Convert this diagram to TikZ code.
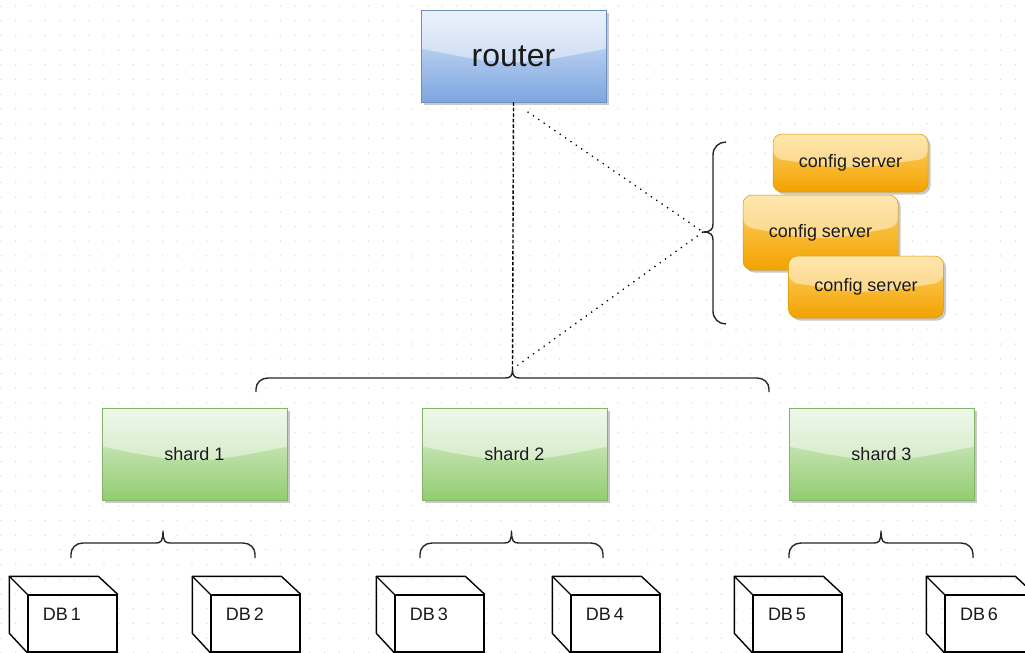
\documentclass[tikz,border=0pt]{standalone}
\usepackage{fontspec}
\setmainfont{Liberation Sans}
\usetikzlibrary{calc,shadows}
\definecolor{gridc}{HTML}{DADADA}
\definecolor{routertop}{HTML}{DCE8FA}
\definecolor{routerbot}{HTML}{7EA6E0}
\definecolor{routerline}{HTML}{6C8EBF}
\definecolor{shardtop}{HTML}{E4F2DC}
\definecolor{shardbot}{HTML}{92CC70}
\definecolor{shardline}{HTML}{82B366}
\definecolor{cfgtop}{HTML}{FFD36A}
\definecolor{cfgbot}{HTML}{F3A200}
\definecolor{cfgline}{HTML}{D79B00}
\definecolor{txt}{HTML}{1A1A1A}
% horizontal brace pointing up: x1, x2, y of ends, y of middle line, y of tip
\newcommand\myhbrace[5]{%
  \draw[bracestyle] (#1,#3) -- (#1,#4+11) .. controls (#1,#4+5) and (#1+5,#4) .. (#1+12,#4)
    -- ({(#1+#2)/2-7},#4) .. controls ({(#1+#2)/2-2},#4) and ({(#1+#2)/2},#4-2) .. ({(#1+#2)/2},#5)
    .. controls ({(#1+#2)/2},#4-2) and ({(#1+#2)/2+2},#4) .. ({(#1+#2)/2+7},#4)
    -- (#2-12,#4) .. controls (#2-5,#4) and (#2,#4+5) .. (#2,#4+11) -- (#2,#3);}
\begin{document}
\begin{tikzpicture}[x=1pt,y=-1pt,
  glass/.style={path picture={
    \fill[white,opacity=0.45]
      (path picture bounding box.north west) -- (path picture bounding box.north east)
      -- ($(path picture bounding box.north east)!0.42!(path picture bounding box.south east)$)
      .. controls ($(path picture bounding box.north)!0.62!(path picture bounding box.south)$) ..
      ($(path picture bounding box.north west)!0.42!(path picture bounding box.south west)$) -- cycle;}},
  glassbox/.style={draw, line width=0.5pt, inner sep=0pt, text=txt, glass,
    drop shadow={shadow xshift=2.5pt,shadow yshift=-2.5pt,opacity=0.3,fill=black!70}},
  routerbox/.style={glassbox, draw=routerline, top color=routertop, bottom color=routerbot,
    minimum width=185pt, minimum height=92pt, font=\fontsize{32}{36}\selectfont},
  shardbox/.style={glassbox, draw=shardline, top color=shardtop, bottom color=shardbot,
    minimum width=185pt, minimum height=92pt, font=\fontsize{18}{22}\selectfont},
  cfgbox/.style={glassbox, draw=cfgline, top color=cfgtop, bottom color=cfgbot, rounded corners=9pt,
    minimum width=155pt, font=\fontsize{18}{22}\selectfont},
  cubeface/.style={draw, line width=1.4pt, fill=white, minimum width=89pt, minimum height=57pt, inner sep=0pt},
  cubeedge/.style={line width=1.4pt, line join=round},
  dblabel/.style={font=\fontsize{18}{22}\selectfont, text=txt, inner sep=0pt},
  bracestyle/.style={line width=1.4pt, draw=black!85, line join=round},
  vline/.style={line width=1.4pt, dash pattern=on 3.5pt off 2pt},
  dotline/.style={line width=1.3pt, dash pattern=on 1.3pt off 5.2pt}
]
\useasboundingbox (0,0) rectangle (1025,653);
\fill[white] (0,0) rectangle (1025,653);
% dot grid
\foreach \i in {0,...,69} {
  \foreach \j in {0,...,44} {
    \fill[gridc] (1+\i*14.7, 6+\j*14.7) circle[radius=0.75pt];
  }
}

% router
\node[routerbox] (router) at (513.5,56) {router};

% config servers
\node[cfgbox, minimum height=58pt] (cfg1) at (850.5,163) {config server};
\node[cfgbox, minimum height=75pt] (cfg2) at (820.5,232.5) {config server};
\node[cfgbox, minimum height=62pt] (cfg3) at (866,287) {config server};

% config brace (pointing left)
\draw[bracestyle] (726,142) .. controls (719,142) and (713,147) .. (713,155) -- (713,224)
  .. controls (713,229) and (711,232) .. (703,232) .. controls (711,232) and (713,235) .. (713,240)
  -- (713,311) .. controls (713,319) and (719,324) .. (726,324);
\coordinate (cfgtip) at (703,232);

% shard brace
\myhbrace{256}{769}{392}{378}{369}
\coordinate (shtip) at (512.5,369);

% shards
\node[shardbox] (shard1) at (194.5,454) {shard 1};
\node[shardbox] (shard2) at (514.5,454) {shard 2};
\node[shardbox] (shard3) at (881.5,454) {shard 3};

% lower braces
\myhbrace{71}{255}{558}{543}{531}
\myhbrace{420}{603}{558}{543}{531}
\myhbrace{789}{973}{558}{543}{531}

% connectors
\draw[vline] (router.south) -- (shtip);
\draw[dotline, shorten <=17pt] (router.south) -- (cfgtip);
\draw[dotline, shorten >=6pt] (cfgtip) -- (shtip);

% DB cubes
\foreach \x/\n in {10/1,193/2,377/3,553/4,735/5,927/6} {
  \node[cubeface] (db\n) at (\x+62.5,623.5) {};
  \draw[cubeedge] (db\n.north west) -- ++(-18,-18) -- ++(89,0) -- (db\n.north east);
  \draw[cubeedge] (db\n.north west) ++(-18,-18) -- ++(0,57) -- (db\n.south west);
  \node[dblabel] at ($(db\n.center)+(-10.5,-9.5)$) {DB\,\n};
}
\end{tikzpicture}
\end{document}
